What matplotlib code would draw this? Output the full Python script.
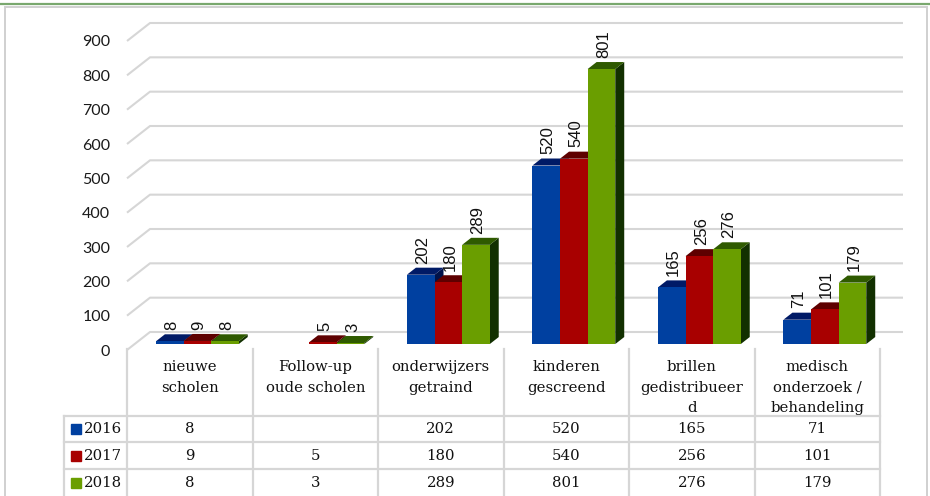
import matplotlib
matplotlib.use("Agg")
import matplotlib.pyplot as plt
from matplotlib.patches import Polygon, Rectangle
from matplotlib.lines import Line2D

# ---------------- data ----------------
categories = ["nieuwe\nscholen", "Follow-up\noude scholen", "onderwijzers\ngetraind",
              "kinderen\ngescreend", "brillen\ngedistribueer\nd",
              "medisch\nonderzoek /\nbehandeling"]
series_names = ["2016", "2017", "2018"]
values_2016 = [8, None, 202, 520, 165, 71]
values_2017 = [9, 5, 180, 540, 256, 101]
values_2018 = [8, 3, 289, 801, 276, 179]
y_ticks = [0, 100, 200, 300, 400, 500, 600, 700, 800, 900]

series_values = [values_2016, values_2017, values_2018]

# ---------------- style ----------------
front_colors = ["#0040A0", "#A80000", "#6A9E00"]
top_colors = ["#001A66", "#5E0000", "#2F5A00"]
side_colors = ["#00124A", "#420000", "#123000"]
grid_color = "#D6D6D6"
serif = "DejaVu Serif"

W, H = 930, 496
fig = plt.figure(figsize=(W / 100, H / 100), dpi=100)


def fx(px):
    return px / W


def fy(py):
    return 1 - py / H


# ---------------- main 3D-like chart ----------------
left_px, right_px, base_px, top_px = 127, 905, 350, 23
col_px = 125.5
px_per_val = 309 / 900
ax = fig.add_axes([fx(left_px), fy(base_px), (right_px - left_px) / W, (base_px - top_px) / H])
n = len(categories)
xmin = -0.5
xmax = xmin + (right_px - left_px) / col_px
ymax = (base_px - top_px) / px_per_val
ax.set_xlim(xmin, xmax)
ax.set_ylim(0, ymax)
for s in ax.spines.values():
    s.set_visible(False)
ax.set_xticks([])
ax.set_yticks(y_ticks)
ax.set_yticklabels([str(v) for v in y_ticks], fontfamily="Lato", fontsize=11.5, color="#1a1a1a")
ax.tick_params(axis="y", length=0, pad=12)

DX = 23 / col_px          # depth offset (x, data units)
DY = 18 / px_per_val      # depth offset (y, data units)

# gridlines: front-left diagonal then back wall
for v in y_ticks:
    ax.plot([xmin, xmin + DX, n - 0.5 + DX], [v, v + DY, v + DY],
            color=grid_color, lw=1.5, zorder=1, clip_on=False, solid_capstyle="butt")

f0, f1 = 0.33, 0.72
bar_w = 0.22
group_w = bar_w * len(series_names)

for ci in range(n):
    for si, vals in enumerate(series_values):
        h = vals[ci]
        if h is None:
            continue
        L = ci - group_w / 2 + si * bar_w
        R = L + bar_w
        x0, y0 = f0 * DX, f0 * DY
        x1, y1 = f1 * DX, f1 * DY
        side = Polygon([(R + x0, y0), (R + x1, y1), (R + x1, h + y1), (R + x0, h + y0)],
                       closed=True, facecolor=side_colors[si], edgecolor="none", zorder=3)
        top = Polygon([(L + x0, h + y0), (R + x0, h + y0), (R + x1, h + y1), (L + x1, h + y1)],
                      closed=True, facecolor=top_colors[si], edgecolor="none", zorder=3)
        front = Polygon([(L + x0, y0), (R + x0, y0), (R + x0, h + y0), (L + x0, h + y0)],
                        closed=True, facecolor=front_colors[si], edgecolor="none", zorder=3)
        ax.add_patch(side)
        ax.add_patch(top)
        ax.add_patch(front)
        ax.annotate(str(h), xy=(L + bar_w / 2 + x0 + 0.015, h + y1), xytext=(0, 3),
                    textcoords="offset points", rotation=90, ha="center", va="bottom",
                    fontfamily="Liberation Sans", fontsize=12, color="#111111", zorder=5,
                    annotation_clip=False)

# ---------------- data table ----------------
tab_left_px, tab_right_px, tab_top_px = 64, 880, 349
row_px = 26.8
tab = fig.add_axes([fx(tab_left_px), 0, (tab_right_px - tab_left_px) / W, (H - tab_top_px) / H])
tab_xmin = -0.5 - (left_px - tab_left_px) / col_px
tab_ymax = (H - tab_top_px) / row_px
tab.set_xlim(tab_xmin, n - 0.5)
tab.set_ylim(0, tab_ymax)
tab.axis("off")
nrows = len(series_names)
lw_t = 1.6
for k in range(n + 1):
    tab.plot([k - 0.5, k - 0.5], [0, tab_ymax], color=grid_color, lw=lw_t, clip_on=False)
tab.plot([tab_xmin, tab_xmin], [0, nrows], color=grid_color, lw=lw_t, clip_on=False)
for r in range(1, nrows + 1):
    tab.plot([tab_xmin, n - 0.5], [r, r], color=grid_color, lw=lw_t, clip_on=False)

for ci, cat in enumerate(categories):
    tab.text(ci, tab_ymax - 11 / row_px, cat, ha="center", va="top", fontfamily=serif,
             fontsize=10.7, linespacing=1.6, color="#111111")

for si, (name, vals) in enumerate(zip(series_names, series_values)):
    yc = nrows - si - 0.5
    tab.plot([tab_xmin + 11.5 / col_px], [yc], marker="s", markersize=6.5,
             color=front_colors[si], linestyle="none", clip_on=False)
    tab.text(tab_xmin + 20 / col_px, yc, name, ha="left", va="center", fontfamily=serif,
             fontsize=10.7, color="#111111")
    for ci, v in enumerate(vals):
        if v is None:
            continue
        tab.text(ci, yc, str(v), ha="center", va="center", fontfamily=serif,
                 fontsize=10.7, color="#111111")

# ---------------- frame ----------------
fig.add_artist(Rectangle((fx(4.7), fy(H + 5)), (927 - 4.7) / W, (H + 5 - 7.3) / H,
                         transform=fig.transFigure, fill=False, edgecolor="#D0D0D0", lw=1.4))
fig.add_artist(Line2D([0, 1], [fy(4), fy(4)], transform=fig.transFigure,
                      color="#79A86E", lw=1.6))

fig.savefig("out.png", dpi=100)
